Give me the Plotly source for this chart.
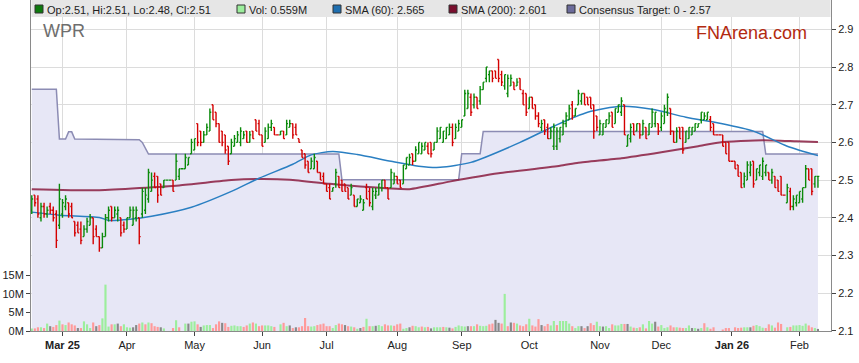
import pandas as pd
import plotly.graph_objects as go

# ---------------- data (prices in cents) ----------------
dates = pd.bdate_range("2025-02-17", "2026-02-10")  # weekdays; ASX holidays drawn flat with zero volume

opens_c = [
    242,246,245,240,243,241,243,242,241,238, 241,243,244,243,239,238,237,235,237,238,
    240,237,235,232,235,240,243,240,241,240, 238,237,240,238,240,240,241,242,245,247,
    251,251,249,248,250,250,250,250,251,253, 253,254,257,258,265,263,260,262,263,270,
    268,265,263,262,259,257,259,260,260,261, 263,260,263,266,265,262,260,261,264,264,
    262,262,263,262,264,265,264,261,258,257, 255,253,253,255,252,251,249,248,247,249,
    251,250,249,248,246,246,243,244,242,248, 247,243,246,246,248,250,248,248,249,251,
    250,249,253,254,257,255,257,257,258,259, 260,258,260,261,260,261,262,264,261,263,
    264,267,269,272,270,272,271,274,277,278, 279,279,282,278,275,273,275,276,275,277,
    273,273,269,272,270,267,264,266,264,261, 259,259,261,262,265,266,270,267,270,271,
    273,272,272,270,267,262,262,264,265,268, 265,268,268,270,259,261,265,263,265,262,
    264,262,264,265,265,264,265,268,269,263, 260,264,264,260,261,262,263,264,266,266,
    266,266,265,262,262,262,260,260,255,255, 254,252,249,250,252,255,250,252,251,252,
    252,250,251,250,251,246,244,247,243,244, 244,245,248,253,253,249,251]
highs_c = [
    246,246,246,244,244,243,244,243,242,249, 245,246,244,244,239,239,239,238,240,241,
    240,238,235,236,241,243,243,243,243,240, 239,240,243,243,243,240,248,248,253,252,
    252,251,249,250,250,250,250,257,253,253, 257,256,261,261,265,263,263,265,269,270,
    268,265,263,262,259,261,262,263,264,263, 263,263,263,266,266,262,264,265,266,264,
    262,263,263,266,266,265,265,261,258,257, 255,256,257,255,252,252,249,249,248,253,
    251,250,249,248,249,246,245,246,245,249, 248,248,248,249,250,250,248,253,252,251,
    250,254,256,257,257,259,260,260,260,260, 260,260,264,264,263,264,265,265,265,266,
    266,274,274,273,273,272,275,276,280,279, 279,279,282,279,278,278,278,276,277,277,
    274,273,272,272,270,268,266,266,265,264, 265,264,264,266,268,270,271,269,274,273,
    273,272,272,270,267,266,265,266,268,268, 269,270,272,270,262,265,265,265,265,266,
    264,265,269,268,265,268,270,273,269,263, 264,264,264,263,264,264,265,265,268,268,
    268,267,265,262,262,262,260,260,255,255, 254,252,252,255,255,255,253,254,256,254,
    252,253,251,250,251,246,249,248,246,246, 247,248,254,253,253,251,251]
lows_c = [
    241,243,240,239,240,240,241,239,232,237, 240,242,240,240,235,236,233,235,236,238,
    233,235,231,232,235,239,239,240,239,235, 236,237,240,238,239,233,240,241,244,247,
    248,244,246,248,250,250,247,250,250,253, 253,254,257,258,259,259,260,262,263,266,
    264,260,259,257,254,257,259,260,259,261, 260,260,261,263,262,259,260,261,263,262,
    262,262,261,262,264,261,262,260,256,253, 252,253,253,252,250,249,247,245,247,248,
    248,247,247,245,246,243,243,244,242,245, 243,242,245,246,247,248,245,248,249,249,
    248,249,253,254,254,255,257,257,258,257, 256,258,260,261,260,261,262,259,261,263,
    264,267,269,267,269,269,270,274,276,276, 276,277,276,275,274,272,275,274,275,274,
    270,267,269,269,266,264,263,262,261,261, 258,258,260,262,264,266,266,267,270,270,
    270,270,269,261,263,262,262,264,265,264, 265,268,267,262,259,260,262,263,261,262,
    261,262,264,264,262,263,265,267,262,260, 260,261,257,260,261,262,263,264,265,266,
    266,263,262,262,262,259,257,255,255,253, 251,248,248,250,251,248,250,251,250,251,
    250,249,248,247,246,246,244,242,242,243, 244,244,248,250,246,248,248]
closes_c = [
    245,244,241,243,241,242,242,240,234,245, 244,245,241,240,236,236,234,237,239,240,
    235,235,232,235,240,242,240,242,242,236, 237,240,242,242,242,235,247,246,252,250,
    248,246,246,250,250,250,247,255,253,253, 256,256,260,261,260,260,262,264,268,266,
    265,260,260,258,255,260,261,262,263,262, 260,262,261,263,262,259,263,264,265,262,
    262,263,261,265,265,262,262,260,256,254, 252,255,256,252,250,249,247,245,248,252,
    248,247,247,245,248,243,245,245,244,245, 244,247,247,249,250,248,245,252,251,249,
    248,254,256,256,255,258,260,259,260,257, 257,260,263,264,263,264,264,260,264,265,
    266,273,273,268,272,269,274,276,280,279, 277,277,277,276,278,277,277,274,276,274,
    270,268,272,269,267,265,265,263,261,263, 264,263,264,265,267,269,267,269,273,273,
    270,270,269,263,264,265,265,266,267,264, 269,270,271,262,262,264,262,265,262,265,
    261,265,268,268,263,267,269,272,263,260, 263,261,258,263,264,264,265,265,268,267,
    268,264,262,262,262,259,257,255,255,253, 251,248,251,254,254,249,253,254,255,254,
    250,252,248,247,246,246,248,243,245,246, 247,248,253,250,247,251,251]

volume_m = [
    0.7,0.7,1.0,1.0,0.8,2.0,1.3,1.1,1.6,2.8, 1.8,1.6,2.3,1.8,1.5,0.8,0.8,2.6,1.8,0.8,
    2.3,1.3,1.6,3.4,12.5,1.2,1.8,1.8,2.0,1.3, 1.8,1.0,0.9,1.0,1.6,2.0,2.3,1.8,2.3,2.1,
    1.3,1.1,1.0,0.7,0,0,0.8,2.9,1.0,0, 2.0,2.0,2.5,2.6,1.8,1.1,1.5,1.6,1.6,0.8,
    1.8,2.6,2.2,2.1,1.1,1.4,1.5,1.3,1.3,1.1, 1.5,2.0,2.3,2.0,1.3,1.5,1.5,1.5,1.3,1.1,
    0,1.8,2.2,1.3,1.5,0.8,1.0,1.0,1.3,3.5, 1.3,1.2,1.3,1.6,1.8,2.0,1.3,1.3,0.8,1.6,
    2.0,1.8,1.6,1.3,1.2,1.0,0.6,0.8,1.1,3.3, 1.3,1.3,1.4,1.6,1.3,1.8,1.5,1.5,1.4,1.8,
    2.0,0.6,0.8,1.0,1.4,1.3,1.0,1.2,1.0,1.1, 0.7,1.0,1.0,1.0,1.1,1.0,0.9,0.7,1.1,1.5,
    1.3,1.2,1.3,1.3,1.3,1.8,1.4,1.3,1.4,1.8, 2.0,3.0,2.2,2.0,10.0,1.3,2.3,2.2,2.0,1.5,
    1.3,1.8,3.3,1.5,1.2,3.2,1.6,1.3,1.9,1.5, 2.7,1.6,2.7,2.7,2.7,2.0,1.3,0.8,1.3,1.3,
    0.8,1.3,2.1,1.6,2.5,1.3,1.2,1.3,0.8,1.8, 1.5,1.5,1.9,1.9,1.9,1.2,0.9,0.8,1.0,1.8,
    0.7,2.7,2.0,2.5,1.2,1.6,0.8,1.0,1.5,1.0, 1.0,0.9,0.8,0.8,1.5,0.8,0.8,0.6,0.8,2.1,
    1.0,0.6,1.0,0,0,0.4,0.8,0.8,0,1.0, 0.8,0.9,1.0,1.0,1.0,1.4,1.6,1.3,0.9,0.8,
    1.8,1.5,0.9,2.3,1.9,0,1.0,1.1,1.5,1.5, 1.6,1.4,2.0,1.5,1.0,0.8,0.559]

sma60_dates = ["2025-02-17","2025-02-28","2025-03-19","2025-03-24","2025-04-02","2025-04-11",
               "2025-04-30","2025-05-19","2025-05-30","2025-06-16","2025-06-24","2025-07-03",
               "2025-07-15","2025-07-30","2025-08-12","2025-08-21","2025-09-04","2025-09-26",
               "2025-10-13","2025-10-28","2025-11-12","2025-11-26","2025-12-11","2025-12-26",
               "2026-01-12","2026-01-27","2026-02-10"]
sma60_vals = [2.415,2.407,2.401,2.393,2.396,2.404,2.428,2.470,2.505,2.542,2.567,2.576,
              2.568,2.550,2.537,2.534,2.547,2.600,2.643,2.680,2.696,2.688,2.667,2.651,
              2.630,2.590,2.565]

sma200_dates = ["2025-02-17","2025-03-19","2025-04-24","2025-05-19","2025-05-30","2025-06-13",
                "2025-07-02","2025-07-16","2025-08-07","2025-08-26","2025-09-17","2025-10-15",
                "2025-10-23","2025-11-12","2025-12-01","2025-12-17","2025-12-26","2026-01-15",
                "2026-01-30","2026-02-10"]
sma200_vals = [2.476,2.473,2.486,2.500,2.503,2.501,2.490,2.483,2.476,2.496,2.518,2.538,
               2.546,2.558,2.574,2.590,2.600,2.606,2.603,2.601]

target_dates = ["2025-02-17","2025-02-27","2025-02-28","2025-03-04","2025-03-05","2025-03-06",
                "2025-03-07","2025-04-04","2025-04-07","2025-04-08","2025-04-09","2025-04-10",
                "2025-07-07","2025-07-08","2025-08-29","2025-09-01","2025-09-09","2025-09-10",
                "2026-01-15","2026-01-16","2026-02-10"]
target_vals = [2.741,2.741,2.609,2.609,2.628,2.628,2.609,2.609,2.607,2.600,2.585,2.569,
               2.569,2.501,2.501,2.570,2.570,2.629,2.629,2.569,2.569]

tick_dates = ["2025-03-03","2025-04-01","2025-05-01","2025-06-02","2025-07-01","2025-08-01",
              "2025-09-01","2025-10-01","2025-11-03","2025-12-01","2026-01-01","2026-02-02"]
tick_text = ["<b>Mar 25</b>","Apr","May","Jun","Jul","Aug","Sep","Oct","Nov","Dec",
             "<b>Jan 26</b>","Feb"]

legend_items = [
    ("#0d7a0d", "Op:2.51, Hi:2.51, Lo:2.48, Cl:2.51"),
    ("#9cee9c", "Vol: 0.559M"),
    ("#1f6fb0", "SMA (60): 2.565"),
    ("#7a0f2e", "SMA (200): 2.601"),
    ("#6b6b9b", "Consensus Target: 0 - 2.57"),
]

# ---------------- derived ----------------
opens = [v / 100 for v in opens_c]
highs = [v / 100 for v in highs_c]
lows = [v / 100 for v in lows_c]
closes = [v / 100 for v in closes_c]
volumes = [v * 1e6 for v in volume_m]

vol_colors = []
for i, c in enumerate(closes_c):
    prev = closes_c[i - 1] if i > 0 else opens_c[0]
    if c > prev:
        vol_colors.append("#9cee9c")
    elif c < prev:
        vol_colors.append("#ff9a9a")
    else:
        vol_colors.append("#888888")

FONT = "Liberation Sans, Arial, sans-serif"
PL, PR, PH = 31, 831, 331          # plot area in pixels
def px(x):
    return (x - PL) / (PR - PL)
def py(y):
    return 1 - y / PH

YMIN, YMAX = 2.0995, 2.978
TICKFONT = dict(family=FONT, size=11, color="#222222")

fig = go.Figure()

# consensus target area (main subplot, drawn first)
fig.add_trace(go.Scatter(x=target_dates, y=target_vals, mode="lines",
                         line=dict(color="#8c8cb4", width=1.5),
                         fill="tozeroy", fillcolor="#e7e7f6",
                         yaxis="y", hoverinfo="skip", showlegend=False))
# volume
fig.add_trace(go.Bar(x=dates, y=volumes, marker=dict(color=vol_colors, line=dict(width=0)),
                     yaxis="y2", showlegend=False))
# moving averages
fig.add_trace(go.Scatter(x=sma200_dates, y=sma200_vals, mode="lines",
                         line=dict(color="#8a1c40", width=2, shape="spline", smoothing=0.5),
                         opacity=0.85, yaxis="y3", showlegend=False))
fig.add_trace(go.Scatter(x=sma60_dates, y=sma60_vals, mode="lines",
                         line=dict(color="#2a7fc2", width=1.5, shape="spline", smoothing=0.7),
                         yaxis="y3", showlegend=False))
# OHLC bars
fig.add_trace(go.Ohlc(x=dates, open=opens, high=highs, low=lows, close=closes,
                      increasing=dict(line=dict(color="#0a8a0a", width=1.4)),
                      decreasing=dict(line=dict(color="#d40000", width=1.4)),
                      tickwidth=0.45, yaxis="y4", showlegend=False))

shapes = [dict(type="rect", xref="paper", yref="paper", x0=px(31.5), x1=px(830.5),
               y0=py(17), y1=py(0), fillcolor="#e6e6e6", line=dict(width=0), layer="above")]
annotations = []
sq_x = [35, 237, 333, 449, 567]
for (col, txt), sx in zip(legend_items, sq_x):
    shapes.append(dict(type="rect", xref="paper", yref="paper", x0=px(sx), x1=px(sx + 8),
                       y0=py(13), y1=py(5), fillcolor=col,
                       line=dict(color="#333333", width=1), layer="above"))
    annotations.append(dict(xref="paper", yref="paper", x=px(sx + 10), y=py(9.5),
                            text=txt, showarrow=False, xanchor="left", yanchor="middle",
                            font=dict(family=FONT, size=11, color="#222222")))
annotations.append(dict(xref="paper", yref="paper", x=px(41), y=py(31), text="WPR",
                        showarrow=False, xanchor="left", yanchor="middle",
                        font=dict(family=FONT, size=18, color="#6e6e6e")))
annotations.append(dict(xref="paper", yref="paper", x=px(809), y=py(33), text="FNArena.com",
                        showarrow=False, xanchor="right", yanchor="middle",
                        font=dict(family=FONT, size=18, color="#b32a10")))

fig.update_layout(
    width=859, height=363,
    margin=dict(l=PL, r=859 - PR, t=0, b=363 - PH, pad=0),
    paper_bgcolor="white", plot_bgcolor="white",
    font=dict(family=FONT, size=11, color="#222222"),
    showlegend=False, bargap=0.3, hovermode=False,
    shapes=shapes, annotations=annotations,
    xaxis=dict(type="date", rangebreaks=[dict(bounds=["sat", "mon"])],
               range=["2025-02-14 18:00", "2026-02-16 06:00"],
               tickmode="array", tickvals=tick_dates, ticktext=tick_text,
               ticks="outside", ticklen=4, tickcolor="#444444",
               showgrid=True, gridcolor="#dcdcdc", gridwidth=1,
               showline=True, linecolor="#8a8a8a", linewidth=1,
               rangeslider=dict(visible=False), zeroline=False, automargin=False,
               tickfont=TICKFONT),
    yaxis=dict(side="right", range=[YMIN, YMAX], tick0=2.1, dtick=0.1, tickformat=".1f",
               ticks="outside", ticklen=4, tickcolor="#444444",
               showgrid=True, gridcolor="#dcdcdc", gridwidth=1,
               showline=True, linecolor="#8a8a8a", linewidth=1, zeroline=False,
               automargin=False, tickfont=TICKFONT),
    yaxis2=dict(side="left", overlaying="y", range=[0, 89.2e6],
                tickmode="array", tickvals=[0, 5e6, 10e6, 15e6],
                ticktext=["0M", "5M", "10M", "15M"],
                ticks="outside", ticklen=4, tickcolor="#444444",
                showgrid=False, showline=True, linecolor="#8a8a8a", linewidth=1,
                zeroline=False, automargin=False, tickfont=TICKFONT),
    yaxis3=dict(overlaying="y", range=[YMIN, YMAX], visible=False, showgrid=False,
                automargin=False),
    yaxis4=dict(overlaying="y", range=[YMIN, YMAX], visible=False, showgrid=False,
                automargin=False),
)

fig.write_html("out.html",
               config={"displayModeBar": False, "staticPlot": True},
               post_script="document.body.style.margin='0px';document.body.style.overflow='hidden';")
